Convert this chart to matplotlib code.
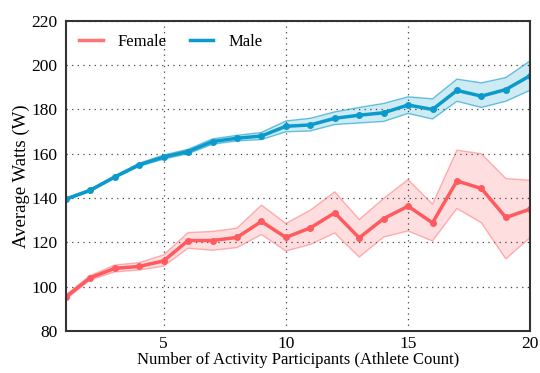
import matplotlib
matplotlib.use("Agg")
import matplotlib.pyplot as plt

plt.rcParams['font.family'] = ['Liberation Serif', 'DejaVu Serif']

athletes = list(range(1, 21))

female_mean = [95.3, 104.0, 108.2, 109.1, 111.6, 120.8, 120.8, 122.2, 129.4, 122.2,
               126.5, 133.3, 122.0, 130.7, 136.3, 128.8, 147.7, 144.3, 131.2, 135.0]
female_low = [94.3, 103.0, 106.6, 107.5, 109.2, 117.3, 116.4, 117.6, 123.5, 116.1,
              119.0, 124.2, 113.3, 122.4, 125.1, 120.6, 135.3, 128.8, 112.5, 122.2]
female_high = [96.3, 105.0, 109.7, 110.8, 114.3, 124.4, 124.9, 126.4, 136.8, 128.5,
               134.5, 142.8, 130.3, 139.8, 148.3, 137.2, 161.6, 160.0, 148.8, 148.0]

male_mean = [139.5, 143.5, 149.5, 155.0, 158.5, 161.0, 165.5, 167.0, 168.0, 172.4,
             173.0, 176.0, 177.4, 178.5, 182.0, 180.0, 188.6, 186.0, 189.0, 195.3]
male_low = [139.0, 143.0, 149.0, 154.3, 157.6, 160.0, 164.3, 165.8, 166.4, 169.9,
            170.3, 173.2, 173.9, 174.6, 178.2, 175.7, 183.7, 180.9, 183.7, 188.7]
male_high = [140.0, 144.0, 150.0, 155.7, 159.4, 162.0, 166.7, 168.3, 169.6, 174.8,
             176.0, 178.9, 180.9, 182.7, 185.7, 184.8, 193.7, 192.0, 194.4, 202.0]

female_color = '#ff5a5f'
male_color = '#0a9bcc'

fig = plt.figure(figsize=(5.4, 3.73), dpi=100)
ax = fig.add_axes([0.122, 0.113, 0.86, 0.831])

# confidence bands
ax.fill_between(athletes, female_low, female_high, facecolor=female_color, alpha=0.2,
                edgecolor='none')
ax.plot(athletes, female_low, color=female_color, alpha=0.45, lw=1)
ax.plot(athletes, female_high, color=female_color, alpha=0.45, lw=1)
ax.plot(athletes, female_mean, color=female_color, lw=2.5, marker='o', markersize=4,
        label='Female')

ax.fill_between(athletes, male_low, male_high, facecolor=male_color, alpha=0.2,
                edgecolor='none')
ax.plot(athletes, male_low, color=male_color, alpha=0.6, lw=1)
ax.plot(athletes, male_high, color=male_color, alpha=0.6, lw=1)
ax.plot(athletes, male_mean, color=male_color, lw=2.5, marker='o', markersize=4,
        label='Male')

ax.set_xlim(1, 20)
ax.set_ylim(80, 220)
ax.set_xticks([5, 10, 15, 20])
ax.set_yticks(range(80, 221, 20))
ax.tick_params(length=0, labelsize=12.5, pad=4)
ax.tick_params(axis='y', pad=6)
ax.grid(True, linestyle=(0, (1, 3.5)), color='#444444', linewidth=0.9)
for s in ax.spines.values():
    s.set_linewidth(1.5)
    s.set_color('#333333')

ax.set_xlabel('Number of Activity Participants (Athlete Count)', fontsize=12, labelpad=0)
ax.set_ylabel('Average Watts (W)', fontsize=13.5, labelpad=1)
leg = ax.legend(loc='upper left', ncol=2, frameon=False, fontsize=12, handlelength=1.4,
                handletextpad=0.9, columnspacing=1.4, borderaxespad=0.4)
for h in leg.legend_handles:
    h.set_marker('')
leg.legend_handles[0].set_alpha(0.85)

fig.savefig('out.png', dpi=100)
